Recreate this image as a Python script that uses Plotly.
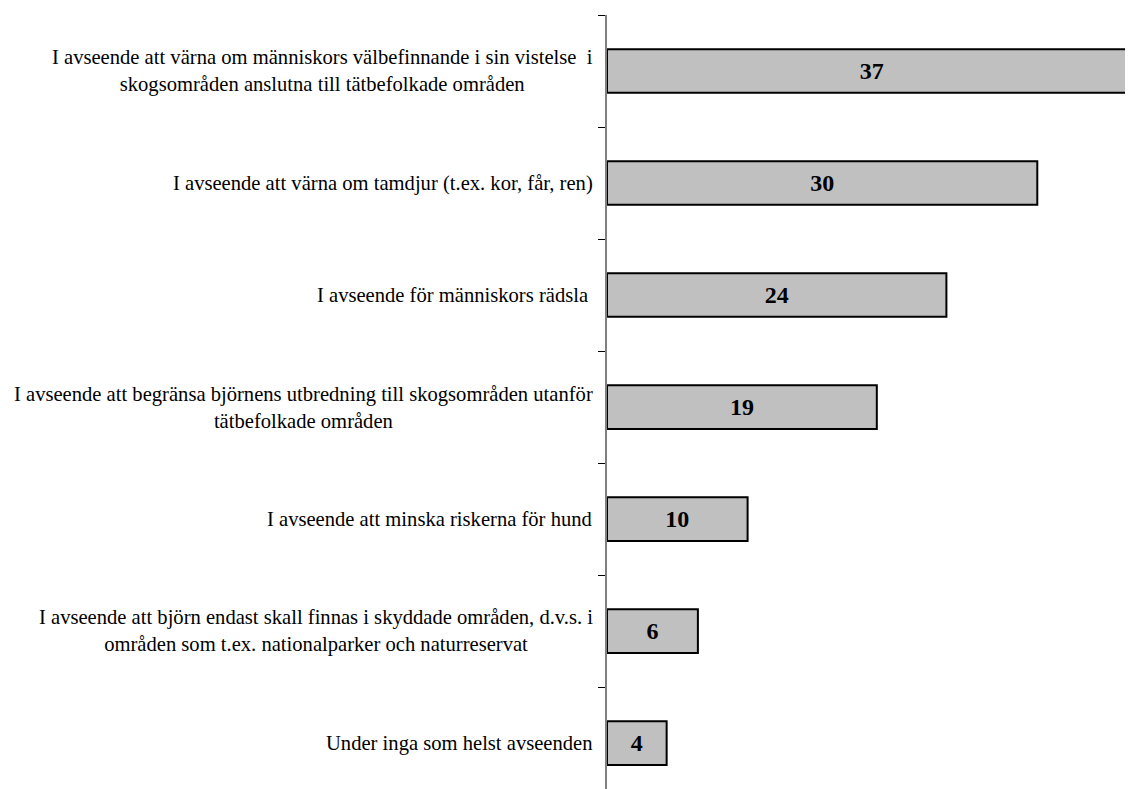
import plotly.graph_objects as go

categories = [
    "I avseende att värna om människors välbefinnande i sin vistelse  i<br>skogsområden anslutna till tätbefolkade områden",
    "I avseende att värna om tamdjur (t.ex. kor, får, ren)",
    "I avseende för människors rädsla ",
    "I avseende att begränsa björnens utbredning till skogsområden utanför<br>tätbefolkade områden",
    "I avseende att minska riskerna för hund",
    "I avseende att björn endast skall finnas i skyddade områden, d.v.s. i<br>områden som t.ex. nationalparker och naturreservat",
    "Under inga som helst avseenden",
]
values = [37.3, 30.3, 23.9, 19.0, 9.9, 6.4, 4.2]

SERIF = "Liberation Serif, Times New Roman, serif"

fig = go.Figure()
fig.add_trace(go.Bar(
    y=categories,
    x=values,
    orientation="h",
    marker=dict(color="#C0C0C0", line=dict(color="#000000", width=2)),
    texttemplate="%{x:.0f}",
    textposition="inside",
    insidetextanchor="middle",
    textfont=dict(family=SERIF, size=24, color="#000000", weight="bold"),
    hoverinfo="skip",
    cliponaxis=True,
))

for c in categories:
    fig.add_annotation(
        x=0, xref="paper", y=c, yref="y",
        text=c, showarrow=False,
        xanchor="right", yanchor="middle", align="center",
        xshift=-12,
        font=dict(family=SERIF, size=20.6, color="#000000"),
    )

fig.update_layout(
    width=1125, height=781,
    margin=dict(l=599, r=0, t=7, b=0),
    paper_bgcolor="white", plot_bgcolor="white",
    showlegend=False,
    bargap=0.61,
)
fig.update_xaxes(range=[0, 37.04], visible=False, showgrid=False, zeroline=False)
fig.update_yaxes(
    type="category",
    range=[6.41, -0.5],
    showline=True, linecolor="#808080", linewidth=1.5,
    showgrid=False, zeroline=False,
    showticklabels=False,
    ticks="outside", tickson="boundaries", ticklen=7, tickwidth=1, tickcolor="#000000",
)

fig.write_html("out.html")
